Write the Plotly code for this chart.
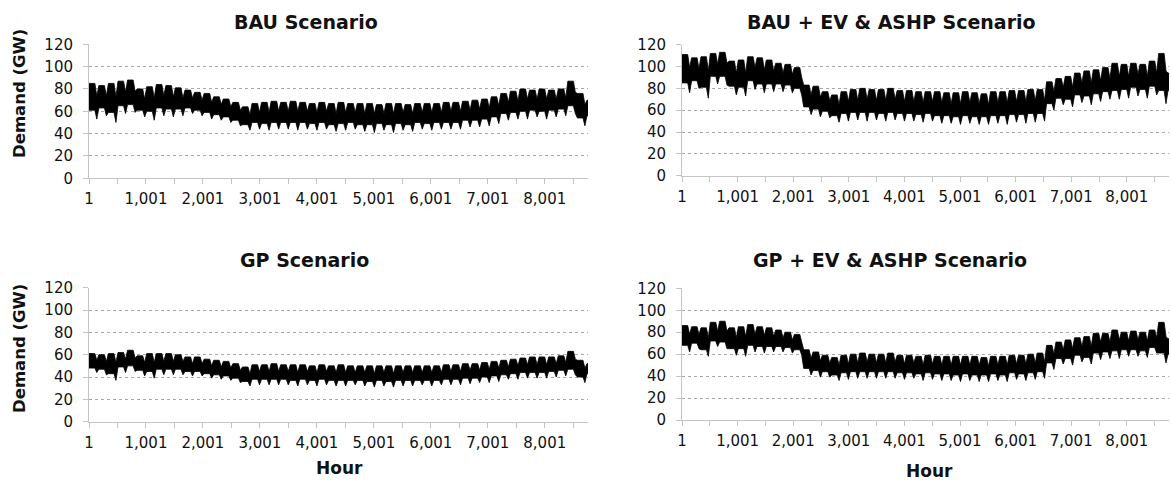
import plotly.graph_objects as go

HOURS_PER_WEEK = 168
N_HOURS = 8760

# ---- weekly envelope values (GW), weeks 0..52 ----
# BAU Scenario
bau_wd_max = [85,83,85,87,88,80,82,84,83,81,79,77,76,73,71,68,64,67,68,69,68,69,68,67,68,67,68,67,67,67,66,67,67,66,67,67,67,68,68,69,70,71,73,76,78,80,79,80,79,80,87,76,70]
bau_wd_min = [61,63,59,65,66,61,60,63,62,62,63,61,59,57,55,52,48,50,49,50,50,50,50,49,50,48,49,50,48,48,49,48,49,48,50,49,50,50,50,52,52,53,55,58,59,60,61,60,61,62,65,54,56]
bau_we_max = [74,74,73,77,78,71,72,74,73,72,72,70,68,66,64,61,57,59,59,60,60,60,60,59,60,58,59,59,58,58,58,58,59,58,59,59,59,60,60,61,62,63,65,68,69,71,71,71,71,72,77,66,64]
bau_we_min = [53,56,50,58,59,55,52,56,55,56,58,56,53,52,50,47,43,44,43,44,44,43,44,43,44,42,43,44,42,41,43,41,43,42,44,43,44,44,44,46,46,47,49,52,53,53,55,53,55,56,58,47,52]

# BAU + EV & ASHP Scenario
bev_wd_max = [111,108,109,112,113,105,106,109,108,106,103,102,99,83,82,77,74,77,79,80,79,79,80,78,78,77,77,77,76,76,77,76,75,77,77,78,78,79,79,86,89,91,94,96,97,99,103,102,103,102,105,112,94]
bev_wd_min = [85,87,81,91,91,82,81,87,84,84,84,83,80,63,61,59,55,57,58,58,58,57,58,57,57,56,57,55,55,54,55,54,54,55,55,56,56,57,57,66,71,70,74,73,75,77,78,79,81,79,82,78,78]
bev_we_max = [99,98,96,102,103,94,94,99,97,96,94,93,90,74,72,69,65,68,69,70,69,69,70,68,68,67,68,67,66,66,67,66,65,67,67,68,68,69,69,77,81,81,85,85,87,89,91,91,93,91,94,96,87]
bev_we_min = [76,80,71,84,83,74,73,79,76,77,77,76,74,56,54,53,49,50,51,50,51,50,51,50,50,49,50,48,48,47,48,47,47,48,47,49,48,49,50,60,65,63,67,65,68,70,70,71,73,71,74,66,73]

# GP Scenario
gp_wd_max = [61,60,61,62,64,59,61,61,61,60,58,58,56,55,54,52,49,51,51,52,51,51,51,50,51,50,51,50,50,50,50,50,50,50,50,50,50,51,51,52,52,53,54,55,56,57,58,58,58,59,63,55,52]
gp_wd_min = [48,47,43,49,50,46,45,47,47,47,45,45,43,42,41,39,36,38,38,38,38,37,38,37,38,37,37,37,37,36,37,36,37,37,37,37,37,38,38,39,39,40,41,42,43,44,44,44,45,46,47,40,43]
gp_we_max = [55,54,53,56,57,53,53,54,54,54,52,52,50,49,48,46,43,45,45,45,45,44,45,44,45,44,44,44,44,43,44,43,44,44,44,44,44,45,45,46,46,47,48,49,50,51,51,51,52,53,56,48,48]
gp_we_min = [44,42,37,44,45,41,39,42,42,42,41,41,39,38,37,35,32,33,33,33,33,32,33,32,33,32,32,33,32,31,32,31,32,32,33,32,33,33,33,34,35,35,36,38,38,39,39,39,40,41,42,35,40]

# GP + EV & ASHP Scenario
gev_wd_max = [86,85,84,89,90,84,85,87,85,84,82,80,78,64,62,59,57,59,60,61,60,60,61,59,59,58,59,58,58,58,58,58,57,58,58,59,59,60,61,68,71,73,75,76,79,79,82,80,81,80,82,89,74]
gev_wd_min = [68,70,64,72,71,65,65,68,67,67,67,66,64,47,45,44,41,43,44,44,44,44,44,43,43,42,43,42,42,41,42,41,41,42,41,43,42,43,44,52,56,56,59,57,61,62,63,64,64,63,66,61,60]
gev_we_max = [78,78,75,81,81,75,76,78,77,76,75,73,71,56,54,52,50,51,52,53,52,52,53,51,52,50,51,50,50,50,50,50,49,50,50,51,51,52,53,60,64,65,67,67,71,71,73,72,73,72,75,76,67]
gev_we_min = [62,65,58,67,65,59,58,62,61,62,62,61,59,41,39,39,36,37,38,38,38,38,38,37,38,36,37,36,36,35,36,35,35,36,35,37,36,37,38,46,51,50,53,51,55,56,56,58,58,57,61,52,55]

# ---- axis ticks / labels ----
x_tick_vals = [1, 501, 1001, 1501, 2001, 2501, 3001, 3501, 4001, 4501, 5001, 5501, 6001, 6501, 7001, 7501, 8001, 8501]
x_tick_text = ["1", "", "1,001", "", "2,001", "", "3,001", "", "4,001", "", "5,001", "", "6,001", "", "7,001", "", "8,001", ""]
y_tick_vals = [0, 20, 40, 60, 80, 100, 120]

titles = ["BAU Scenario", "BAU + EV & ASHP Scenario", "GP Scenario", "GP + EV & ASHP Scenario"]
x_title = "Hour"
y_title = "Demand (GW)"

W, H = 1171, 481
FONT = "DejaVu Sans"
TXT = "#111111"
AXC = "#c4c4c4"
GRIDC = "#a8a8a8"


def band(wd_max, wd_min, we_max, we_min):
    ux, uy, lx, ly = [], [], [], []
    for w in range(len(wd_max)):
        h0 = w * HOURS_PER_WEEK
        pts = [(h0 + 6, wd_max[w], wd_min[w]),
               (h0 + 104, wd_max[w], wd_min[w]),
               (h0 + 138, we_max[w], we_min[w])]
        if w == 0:
            pts[0] = (1, wd_max[w], wd_min[w])
        for x, u, l in pts:
            x = min(x, N_HOURS)
            if ux and x <= ux[-1]:
                continue
            ux.append(x); uy.append(u); lx.append(x); ly.append(l)
    return ux + lx[::-1], uy + ly[::-1]


panels = [
    (bau_wd_max, bau_wd_min, bau_we_max, bau_we_min),
    (bev_wd_max, bev_wd_min, bev_we_max, bev_we_min),
    (gp_wd_max, gp_wd_min, gp_we_max, gp_we_min),
    (gev_wd_max, gev_wd_min, gev_we_max, gev_we_min),
]

# pixel geometry of each plot area: (x0, x1, y_top(120), y_bottom(0))
geom = [
    (89, 588, 44.3, 178.3),
    (682, 1169, 44.7, 175.7),
    (89, 588, 287.7, 421.7),
    (682, 1169, 288.3, 420.0),
]

fig = go.Figure()
layout = dict(
    width=W, height=H, autosize=False,
    margin=dict(l=0, r=0, t=0, b=0, pad=0, autoexpand=False),
    paper_bgcolor="white", plot_bgcolor="white",
    showlegend=False,
    font=dict(family=FONT, size=15, color=TXT),
)

for i, (arrs, g) in enumerate(zip(panels, geom)):
    sfx = "" if i == 0 else str(i + 1)
    bx, by = band(*arrs)
    fig.add_trace(go.Scatter(
        x=bx, y=by, mode="lines", fill="toself",
        fillcolor="#000000", line=dict(color="#000000", width=0.8),
        xaxis="x" + sfx, yaxis="y" + sfx, hoverinfo="skip",
    ))
    x0, x1, yt, yb = g
    layout["xaxis" + sfx] = dict(
        domain=[x0 / W, x1 / W], anchor="y" + sfx,
        range=[1, N_HOURS], tickmode="array",
        tickvals=x_tick_vals, ticktext=x_tick_text,
        ticks="outside", ticklen=5, tickcolor=AXC, tickwidth=1,
        showline=True, linecolor=AXC, linewidth=1,
        showgrid=False, zeroline=False, automargin=False,
        tickfont=dict(family=FONT, size=15, color=TXT),
        ticklabelstandoff=2,
    )
    layout["yaxis" + sfx] = dict(
        domain=[1 - yb / H, 1 - yt / H], anchor="x" + sfx,
        range=[0, 120], tickmode="array", tickvals=y_tick_vals,
        ticks="outside", ticklen=5, tickcolor=AXC, tickwidth=1,
        showline=True, linecolor=AXC, linewidth=1,
        showgrid=True, gridcolor=GRIDC, gridwidth=1, griddash="3px,3px",
        zeroline=False, automargin=False,
        tickfont=dict(family=FONT, size=15, color=TXT),
        ticklabelstandoff=7,
    )

fig.update_layout(**layout)

ann = []
title_pos = [(306, 22), (891.5, 22), (304, 260), (890, 260)]
for t, (px, py) in zip(titles, title_pos):
    ann.append(dict(text="<b>%s</b>" % t, x=px / W, y=1 - py / H, xref="paper", yref="paper",
                    xanchor="center", yanchor="middle", showarrow=False,
                    font=dict(family=FONT, size=19, color=TXT)))
for px, py in [(339, 468), (929.5, 470.5)]:
    ann.append(dict(text="<b>%s</b>" % x_title, x=px / W, y=1 - py / H, xref="paper", yref="paper",
                    xanchor="center", yanchor="middle", showarrow=False,
                    font=dict(family=FONT, size=17, color=TXT)))
for px, py in [(19, 94), (19, 349)]:
    ann.append(dict(text="<b>%s</b>" % y_title, x=px / W, y=1 - py / H, xref="paper", yref="paper",
                    xanchor="center", yanchor="middle", showarrow=False, textangle=-90,
                    font=dict(family=FONT, size=16.5, color=TXT)))
fig.update_layout(annotations=ann)

fig.write_html(
    "out.html",
    config={"displayModeBar": False, "staticPlot": True},
    post_script="document.body.style.margin='0px';document.body.style.padding='0px';document.body.style.overflow='hidden';",
)
